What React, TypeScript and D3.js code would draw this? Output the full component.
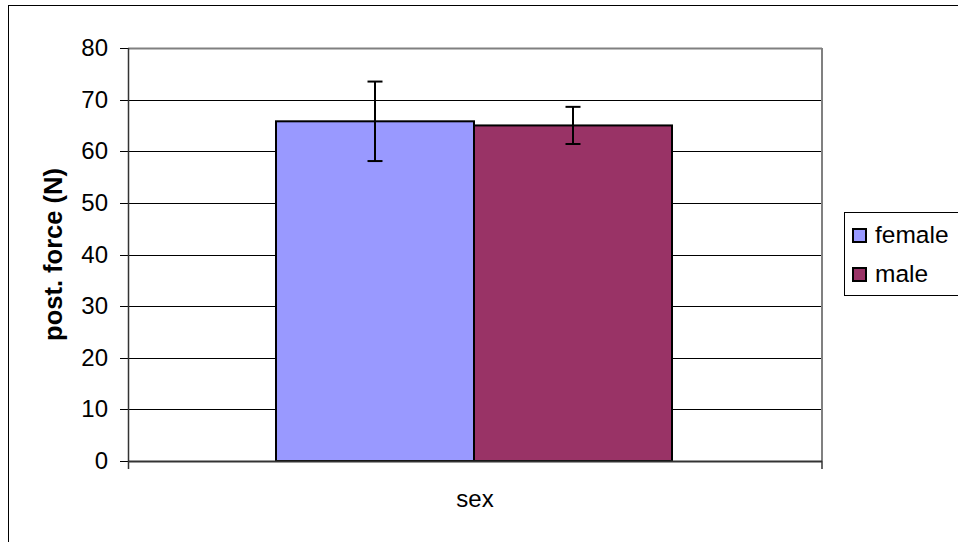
import React from "react";
import * as d3 from "d3";

const categories = ["female", "male"];
const means = [65.8, 65.0];
const errors = [7.7, 3.6];
const colors = ["#9999FF", "#993366"];
const yTicks = [0, 10, 20, 30, 40, 50, 60, 70, 80];
const xLabel = "sex";
const yLabel = "post. force (N)";

export default function App() {
  const W = 958, H = 542;
  const left = 128, right = 822, top = 48, bottom = 461;
  const y = d3.scaleLinear().domain([0, 80]).range([bottom, top]);
  const x = d3.scaleBand().domain(categories).range([276, 672]).padding(0);
  const font = "Arial, 'Liberation Sans', sans-serif";
  return (
    <svg width={W} height={H} style={{ position: "fixed", left: 0, top: 0, background: "#fff" }} fontFamily={font}>
      <rect x={8.5} y={5.5} width={970} height={560} fill="#fff" stroke="#000" strokeWidth={1} />
      {yTicks.map((t) => (
        <g key={t}>
          {t > 0 && t < 80 && (
            <line x1={left} x2={right} y1={Math.round(y(t)) + 0.5} y2={Math.round(y(t)) + 0.5} stroke="#000" />
          )}
          <line x1={120} x2={left} y1={Math.round(y(t)) + 0.5} y2={Math.round(y(t)) + 0.5} stroke="#000" />
          <text x={108} y={Math.round(y(t))} dy="0.35em" textAnchor="end" fontSize={24} fill="#000">{t}</text>
        </g>
      ))}
      <line x1={left} x2={right} y1={top + 0.5} y2={top + 0.5} stroke="#808080" strokeWidth={2} />
      <line x1={right} x2={right} y1={top} y2={bottom} stroke="#808080" strokeWidth={2} />
      {categories.map((c, i) => (
        <rect key={c} x={x(c)!} y={y(means[i])} width={x.bandwidth()} height={bottom - y(means[i])} fill={colors[i]} stroke="#000" strokeWidth={2} />
      ))}
      {categories.map((c, i) => {
        const cx = x(c)! + x.bandwidth() / 2;
        return (
          <g key={c} stroke="#000" strokeWidth={2}>
            <line x1={cx} x2={cx} y1={y(means[i] + errors[i])} y2={y(means[i] - errors[i])} />
            <line x1={cx - 7.5} x2={cx + 7.5} y1={y(means[i] + errors[i])} y2={y(means[i] + errors[i])} />
            <line x1={cx - 7.5} x2={cx + 7.5} y1={y(means[i] - errors[i])} y2={y(means[i] - errors[i])} />
          </g>
        );
      })}
      <line x1={left + 0.5} x2={left + 0.5} y1={top} y2={bottom + 8} stroke="#333" strokeWidth={1.5} />
      <line x1={left} x2={right} y1={bottom + 0.5} y2={bottom + 0.5} stroke="#333" strokeWidth={2} />
      <line x1={right} x2={right} y1={bottom} y2={bottom + 8} stroke="#333" strokeWidth={1.5} />
      <text x={(left + right) / 2} y={507} textAnchor="middle" fontSize={24} fill="#000">{xLabel}</text>
      <text transform={`translate(62,${(top + bottom) / 2}) rotate(-90)`} textAnchor="middle" fontSize={25.5} fontWeight="bold" fill="#000">{yLabel}</text>
      <rect x={844.5} y={212.5} width={120} height={83} fill="#fff" stroke="#000" />
      {categories.map((c, i) => (
        <g key={c}>
          <rect x={853} y={229 + i * 39} width={13} height={13} fill={colors[i]} stroke="#000" strokeWidth={2} />
          <text x={875} y={243 + i * 39} fontSize={24.5} fill="#000">{c}</text>
        </g>
      ))}
    </svg>
  );
}
